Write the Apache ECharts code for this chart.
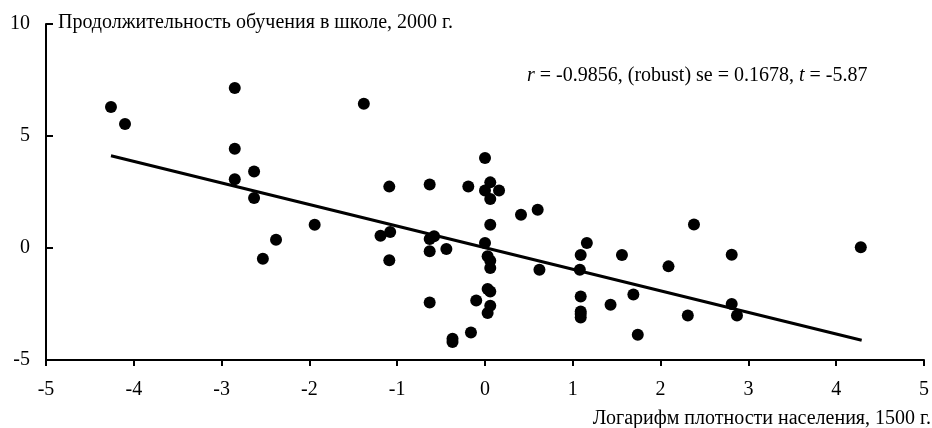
<!DOCTYPE html>
<html>
<head>
<meta charset="utf-8">
<script src="https://cdn.jsdelivr.net/npm/echarts@6/dist/echarts.min.js"></script>
<style>
  html, body { margin: 0; padding: 0; background: #fff; }
  #chart { width: 932px; height: 428px; }
</style>
</head>
<body>
<div id="chart"></div>
<script>
// точки: логарифм плотности населения (x) и продолжительность обучения (y)
const xVals = [
  -4.26, -4.10, -2.85, -2.85, -2.85, -2.63, -2.63, -2.38, -2.53, -1.94,
  -1.38, -1.19, -1.08, -1.09, -1.09, -0.63, -0.63, -0.58, -0.63, -0.63,
  -0.44, -0.37, -0.37, -0.19, -0.16, -0.10, 0.00, 0.00, 0.06, 0.16,
  0.06, 0.06, 0.00, 0.03, 0.06, 0.06, 0.03, 0.06, 0.06, 0.03,
  0.41, 0.60, 0.62, 1.16, 1.09, 1.08, 1.09, 1.09, 1.09, 1.09,
  1.43, 1.56, 1.69, 1.74, 2.09, 2.31, 2.38, 2.81, 2.81, 2.87,
  4.28
]
const yVals = [
  6.29, 5.54, 7.14, 4.43, 3.07, 3.42, 2.23, 0.37, -0.48, 1.04,
  6.44, 0.55, 0.71, 2.74, -0.55, 2.83, 0.40, 0.52, -0.15, -2.43,
  -0.04, -4.05, -4.20, 2.75, -3.77, -2.34, 4.02, 2.57, 2.93, 2.57,
  2.19, 1.04, 0.22, -0.37, -0.57, -0.89, -1.83, -1.94, -2.58, -2.90,
  1.48, 1.71, -0.97, 0.22, -0.31, -0.97, -2.16, -2.83, -2.95, -3.10,
  -2.53, -0.31, -2.08, -3.87, -0.82, -3.01, 1.05, -0.30, -2.50, -3.01,
  0.03
]
// линия регрессии (концы)
const fitX = [-4.26, 4.29]
const fitY = [4.12, -4.12]

const xTicks = [-5, 5, 1]
const yTicks = [-5, 10, 5]

const font = '"Liberation Serif", "Times New Roman", serif'

const chart = echarts.init(document.getElementById('chart'))

const option = {
  animation: false,
  grid: { left: 46, right: 6, top: 24, bottom: 68 },
  xAxis: {
    type: 'value',
    min: xTicks[0],
    max: xTicks[1],
    interval: xTicks[2],
    axisLine: { onZero: false, lineStyle: { color: '#000', width: 2 } },
    axisTick: { show: true, length: 6, lineStyle: { color: '#000', width: 2 } },
    axisLabel: { color: '#000', fontFamily: font, fontSize: 20, margin: 20 },
    splitLine: { show: false }
  },
  yAxis: {
    type: 'value',
    min: yTicks[0],
    max: yTicks[1],
    interval: yTicks[2],
    axisLine: { show: true, onZero: false, lineStyle: { color: '#000', width: 2 } },
    axisTick: { show: true, inside: true, length: 7, lineStyle: { color: '#000', width: 2 } },
    axisLabel: { color: '#000', fontFamily: font, fontSize: 20, margin: 16 },
    splitLine: { show: false }
  },
  graphic: [
    {
      type: 'text',
      left: 58,
      top: 13,
      style: { text: 'Продолжительность обучения в школе, 2000 г.', font: '20px ' + font, fill: '#000' }
    },
    {
      type: 'text',
      right: 1,
      top: 409,
      style: { text: 'Логарифм плотности населения, 1500 г.', font: '20px ' + font, fill: '#000' }
    },
    {
      type: 'text',
      left: 527,
      top: 66,
      style: {
        text: '{i|r} = -0.9856, (robust) se = 0.1678, {i|t} = -5.87',
        font: '20px ' + font,
        fill: '#000',
        rich: {
          i: { fontStyle: 'italic', fontFamily: font, fontSize: 20, fill: '#000' }
        }
      }
    }
  ],
  series: [
    {
      type: 'line',
      data: fitX.map((x, i) => [x, fitY[i]]),
      symbol: 'none',
      lineStyle: { color: '#000', width: 3 },
      silent: true
    },
    {
      type: 'scatter',
      data: xVals.map((x, i) => [x, yVals[i]]),
      symbolSize: 12,
      itemStyle: { color: '#000', opacity: 1 },
      silent: true
    }
  ]
}

chart.setOption(option)
</script>
</body>
</html>
